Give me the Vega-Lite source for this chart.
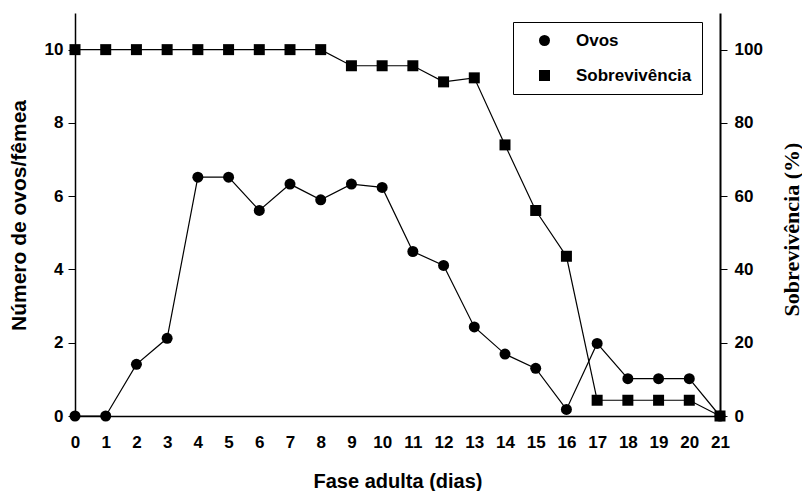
{
  "$schema": "https://vega.github.io/schema/vega-lite/v6.json",
  "width": 645,
  "height": 403,
  "autosize": {"type": "none"},
  "padding": {"left": 75, "top": 13, "right": 82, "bottom": 75},
  "background": "white",
  "config": {
    "view": {"stroke": null},
    "font": "Liberation Sans",
    "axis": {
      "labelFont": "Liberation Sans",
      "labelFontWeight": "bold",
      "labelFontSize": 17,
      "labelColor": "black",
      "titleColor": "black",
      "domainColor": "black",
      "tickColor": "black",
      "grid": false
    }
  },
  "data": {
    "values": [
      {"dia": 0, "ovos": 0, "sobrev": 100},
      {"dia": 1, "ovos": 0, "sobrev": 100},
      {"dia": 2, "ovos": 1.41, "sobrev": 100},
      {"dia": 3, "ovos": 2.12, "sobrev": 100},
      {"dia": 4, "ovos": 6.52, "sobrev": 100},
      {"dia": 5, "ovos": 6.52, "sobrev": 100},
      {"dia": 6, "ovos": 5.61, "sobrev": 100},
      {"dia": 7, "ovos": 6.33, "sobrev": 100},
      {"dia": 8, "ovos": 5.9, "sobrev": 100},
      {"dia": 9, "ovos": 6.33, "sobrev": 95.6},
      {"dia": 10, "ovos": 6.24, "sobrev": 95.6},
      {"dia": 11, "ovos": 4.49, "sobrev": 95.6},
      {"dia": 12, "ovos": 4.11, "sobrev": 91.2},
      {"dia": 13, "ovos": 2.43, "sobrev": 92.3},
      {"dia": 14, "ovos": 1.69, "sobrev": 74.0},
      {"dia": 15, "ovos": 1.3, "sobrev": 56.1},
      {"dia": 16, "ovos": 0.18, "sobrev": 43.6},
      {"dia": 17, "ovos": 1.98, "sobrev": 4.3},
      {"dia": 18, "ovos": 1.02, "sobrev": 4.3},
      {"dia": 19, "ovos": 1.02, "sobrev": 4.3},
      {"dia": 20, "ovos": 1.02, "sobrev": 4.3},
      {"dia": 21, "ovos": 0, "sobrev": 0}
    ]
  },
  "encoding": {
    "x": {
      "field": "dia",
      "type": "quantitative",
      "scale": {"domain": [0, 21], "nice": false, "zero": false},
      "axis": {
        "title": "Fase adulta (dias)",
        "values": [0,1,2,3,4,5,6,7,8,9,10,11,12,13,14,15,16,17,18,19,20,21],
        "ticks": false,
        "tickSize": 0,
        "labelPadding": 18,
        "labelFlush": false,
        "labelOverlap": false,
        "domainWidth": 1.5,
        "titleFont": "Liberation Sans",
        "titleFontWeight": "bold",
        "titleFontSize": 20,
        "titleY": 71,
        "titleBaseline": "alphabetic"
      }
    }
  },
  "layer": [
    {
      "layer": [
        {
          "mark": {"type": "line", "color": "black", "strokeWidth": 1.2},
          "encoding": {
            "y": {
              "field": "ovos",
              "type": "quantitative",
              "scale": {"domain": [0, 11], "nice": false},
              "axis": {
                "orient": "left",
                "title": "Número de ovos/fêmea",
                "values": [0, 2, 4, 6, 8, 10],
                "tickSize": 7,
                "labelPadding": 5,
                "domainWidth": 1.5,
                "titleFont": "Liberation Sans",
                "titleFontWeight": "bold",
                "titleFontSize": 21,
                "titleAngle": 270,
                "titleBaseline": "alphabetic",
                "titleAlign": "center",
                "titleX": -50,
                "titleY": 202
              }
            }
          }
        },
        {
          "mark": {"type": "point", "filled": true, "color": "black", "opacity": 1, "size": 121},
          "encoding": {
            "y": {"field": "ovos", "type": "quantitative"},
            "shape": {
              "datum": "Ovos",
              "type": "nominal",
              "scale": {"domain": ["Ovos", "Sobrevivência"], "range": ["circle", "square"]},
              "legend": {
                "title": null,
                "orient": "none",
                "legendX": 438,
                "legendY": 9,
                "strokeColor": "black",
                "fillColor": "white",
                "padding": 10,
                "symbolSize": 121,
                "symbolOffset": 13,
                "labelOffset": 23,
                "rowPadding": 17,
                "labelFont": "Liberation Sans",
                "labelFontWeight": "bold",
                "labelFontSize": 17,
                "labelColor": "black"
              }
            }
          }
        }
      ]
    },
    {
      "layer": [
        {
          "mark": {"type": "line", "color": "black", "strokeWidth": 1.2},
          "encoding": {
            "y": {
              "field": "sobrev",
              "type": "quantitative",
              "scale": {"domain": [0, 110], "nice": false},
              "axis": {
                "orient": "right",
                "title": "Sobrevivência (%)",
                "values": [0, 20, 40, 60, 80, 100],
                "tickSize": 7,
                "labelPadding": 7,
                "domainWidth": 2,
                "titleFont": "Liberation Serif",
                "titleFontWeight": "bold",
                "titleFontSize": 22,
                "titleAngle": 270,
                "titleBaseline": "alphabetic",
                "titleAlign": "center",
                "titleX": 78,
                "titleY": 216
              }
            }
          }
        },
        {
          "mark": {"type": "point", "filled": true, "color": "black", "opacity": 1, "size": 121},
          "encoding": {
            "y": {"field": "sobrev", "type": "quantitative"},
            "shape": {"datum": "Sobrevivência", "type": "nominal"}
          }
        }
      ]
    }
  ],
  "resolve": {"scale": {"y": "independent"}}
}
